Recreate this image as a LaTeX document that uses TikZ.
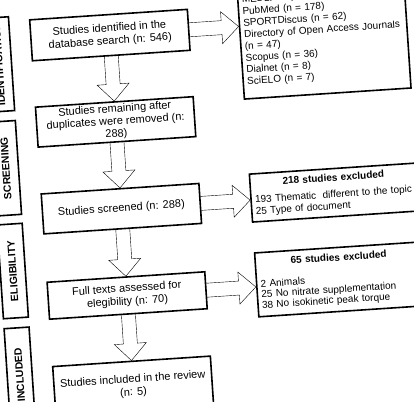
\documentclass[tikz,border=0pt]{standalone}
\usepackage{fontspec}
\setmainfont{Liberation Sans}
\usetikzlibrary{calc}

\tikzset{
    stagebox/.style={draw, line width=1.6pt, minimum width=158pt, align=center,
        inner sep=2pt, font=\fontsize{11}{13}\selectfont},
    listbox/.style={draw, line width=1.6pt, text width=159pt, align=left,
        inner sep=4pt, font=\fontsize{10}{11.7}\selectfont},
    phasebox/.style={draw, line width=1.6pt, rotate=90, minimum width=94pt,
        minimum height=25pt, font=\fontsize{10.5}{12}\selectfont\bfseries},
    % hollow block arrow between two points
    bigarrow/.style={line width=1.6pt, to path={
        ($(\tikztotarget)!17pt!(\tikztostart)$) coordinate (hb)
        ($(\tikztostart)!7pt!-90:(\tikztotarget)$) coordinate (s1)
        ($(\tikztostart)!7pt!90:(\tikztotarget)$) coordinate (s2)
        ($(hb)!7pt!-90:(\tikztotarget)$) coordinate (h1)
        ($(hb)!7pt!90:(\tikztotarget)$) coordinate (h2)
        ($(hb)!16pt!-90:(\tikztotarget)$) coordinate (w1)
        ($(hb)!16pt!90:(\tikztotarget)$) coordinate (w2)
        (s1) -- (h1) -- (w1) -- (\tikztotarget) -- (w2) -- (h2) -- (s2)}},
}

\begin{document}
\begin{tikzpicture}[x=1pt, y=-1pt]
    \fill[white] (0,0) rectangle (414,401);
    \useasboundingbox (0,0) rectangle (414,401);
    \clip (0,0) rectangle (414,401);

\begin{scope}[rotate around={3.8:(207,200)}, transform shape]
    % Phase labels
    \node[phasebox] (ident) at (8.5,51) {IDENTIFICATION};
    \node[phasebox] (screen) at (8.5,155) {SCREENING};
    \node[phasebox] (elig) at (8.5,258) {ELIGIBILITY};
    \node[phasebox] (incl) at (8.5,362) {INCLUDED};

    % Main flow
    \node[stagebox, minimum height=41pt] (search) at (121,29)
        {Studies identified in the\\database search (n: 546)};
    \node[stagebox, minimum height=40pt, inner sep=1pt,
        font=\fontsize{11}{12.5}\selectfont] (dupl) at (121,116)
        {Studies remaining after\\duplicates were removed (n:\\288)};
    \node[stagebox, minimum height=40pt] (screened) at (121,203)
        {Studies screened (n: 288)};
    \node[stagebox, minimum height=37pt] (full) at (121,290)
        {Full texts assessed for\\elegibility (n: 70)};
    \node[stagebox, minimum height=50pt] (review) at (121,381)
        {Studies included in the review\\(n: 5)};

    % Side boxes
    \node[listbox, minimum height=115.5pt] (bases) at (334.5,44)
        {MEDLINE (n = 208)\\PubMed (n = 178)\\SPORTDiscus (n = 62)\\
        \makebox[\linewidth][s]{Directory of Open Access Journals}\\(n = 47)\\
        Scopus (n = 36)\\Dialnet (n = 8)\\SciELO (n = 7)};
    \node[listbox, minimum height=48pt] (excl1) at (334.5,201)
        {{\centering\bfseries 218 studies excluded\par}\vspace{5pt}
        193 Thematic\ \ different to the topic\\25 Type of document};
    \node[listbox, minimum height=64pt, font=\fontsize{10}{10.5}\selectfont]
        (excl2) at (334.5,288)
        {{\centering\bfseries 65 studies excluded\par}\vspace{11pt}
        2 Animals\\25 No nitrate supplementation\\38 No isokinetic peak torque};

    \coordinate (in1) at (250,29);
    \coordinate (in2) at (250,203);
    \coordinate (in3) at (250,290);

    % Arrows
    \draw (search.south) to[bigarrow] (dupl.north);
    \draw (dupl.south) to[bigarrow] (screened.north);
    \draw (screened.south) to[bigarrow] (full.north);
    \draw (full.south) to[bigarrow] (review.north);
    \draw (search.east) to[bigarrow] (in1);
    \draw (screened.east) to[bigarrow] (in2);
    \draw (full.east) to[bigarrow] (in3);
\end{scope}
\end{tikzpicture}
\end{document}
